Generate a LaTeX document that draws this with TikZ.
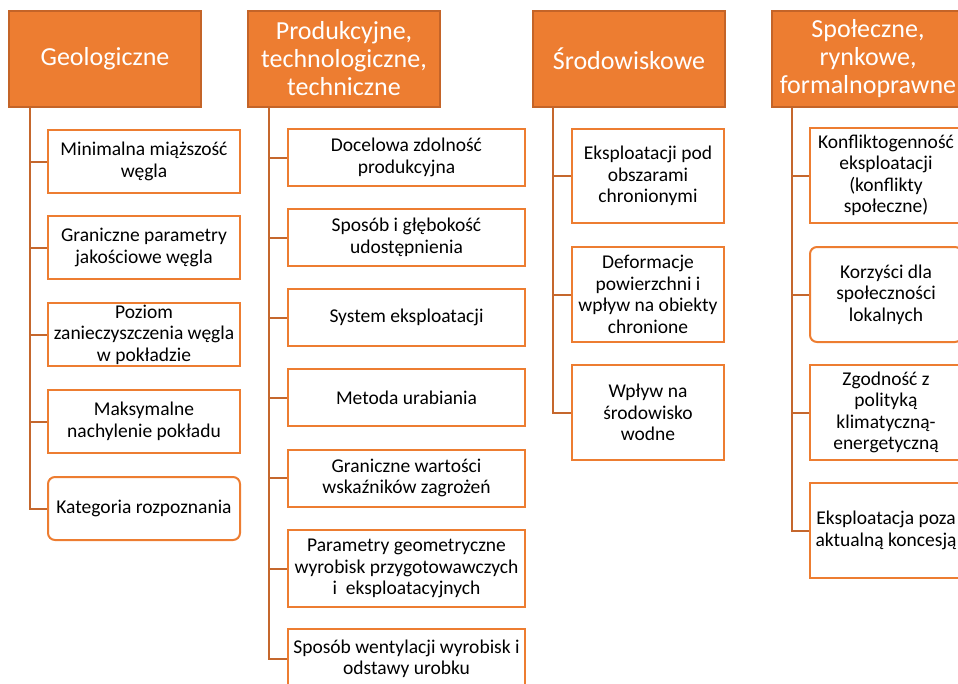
\documentclass[tikz,border=0pt]{standalone}
\usepackage{fontspec}
\setmainfont{Carlito}
\definecolor{hdfill}{RGB}{237,125,49}
\definecolor{hdline}{RGB}{196,100,40}
\definecolor{boxline}{RGB}{237,125,49}
\definecolor{connline}{RGB}{197,103,45}
\tikzset{
  hd/.style={draw=hdline, line width=1.5pt, fill=hdfill, text=white, align=center,
    inner sep=0pt, minimum width=192, minimum height=96,
    font=\fontsize{26}{28}\selectfont},
  ch/.style={draw=boxline, line width=2pt, fill=white, text=black, align=center,
    inner sep=0pt, font=\fontsize{19.5}{21.5}\selectfont},
  chr/.style={ch, rounded corners=7pt},
  conn/.style={draw=connline, line width=2pt},
}
\begin{document}
\begin{tikzpicture}[x=1pt, y=-1pt]
\useasboundingbox (0,0) rectangle (958,683);
% headers
\node[hd] (gh) at (105,59) {Geologiczne};
\node[hd] (ph) at (344,59) {Produkcyjne,\\technologiczne,\\techniczne};
\node[hd] (sh) at (629,59) {Środowiskowe};
\node[hd] (fh) at (868,59) {Społeczne,\\rynkowe,\\formalnoprawne};
% column 1
\node[ch, minimum width=192, minimum height=63] (g1) at (144,161.5) {Minimalna miąższość\\węgla};
\node[ch, minimum width=192, minimum height=63] (g2) at (144,247.5) {Graniczne parametry\\jakościowe węgla};
\node[ch, minimum width=192, minimum height=63] (g3) at (144,334.5) {Poziom\\zanieczyszczenia węgla\\w pokładzie};
\node[ch, minimum width=192, minimum height=63] (g4) at (144,421.5) {Maksymalne\\nachylenie pokładu};
\node[chr, minimum width=192, minimum height=63] (g5) at (144,508.5) {Kategoria rozpoznania};
% column 2
\node[ch, minimum width=237, minimum height=57] (p1) at (406.5,157.5) {Docelowa zdolność\\produkcyjna};
\node[ch, minimum width=237, minimum height=57] (p2) at (406.5,237.5) {Sposób i głębokość\\udostępnienia};
\node[ch, minimum width=237, minimum height=57] (p3) at (406.5,317.5) {System eksploatacji};
\node[ch, minimum width=237, minimum height=57] (p4) at (406.5,397.5) {Metoda urabiania};
\node[ch, minimum width=237, minimum height=57] (p5) at (406.5,478) {Graniczne wartości\\wskaźników zagrożeń};
\node[ch, minimum width=237, minimum height=77] (p6) at (406.5,568.5) {Parametry geometryczne\\wyrobisk przygotowawczych\\i~ eksploatacyjnych};
\node[ch, minimum width=237, minimum height=60] (p7) at (406.5,659) {Sposób wentylacji wyrobisk i\\odstawy urobku};
% column 3
\node[ch, minimum width=152, minimum height=94] (s1) at (648,176) {Eksploatacji pod\\obszarami\\chronionymi};
\node[ch, minimum width=152, minimum height=95] (s2) at (648,294.5) {Deformacje\\powierzchni i\\wpływ na obiekty\\chronione};
\node[ch, minimum width=152, minimum height=95] (s3) at (648,412.5) {Wpływ na\\środowisko\\wodne};
% column 4
\node[ch, minimum width=152, minimum height=95] (f1) at (886,175.5) {Konfliktogenność\\eksploatacji\\(konflikty\\społeczne)};
\node[chr, minimum width=152, minimum height=95] (f2) at (886,294.5) {Korzyści dla\\społeczności\\lokalnych};
\node[ch, minimum width=152, minimum height=95] (f3) at (886,412.5) {Zgodność z\\polityką\\klimatyczną-\\energetyczną};
\node[ch, minimum width=152, minimum height=95] (f4) at (886,530.5) {Eksploatacja poza\\aktualną koncesją};
% trunks
\coordinate (gt) at (30,0);
\coordinate (pt) at (269,0);
\coordinate (st) at (553,0);
\coordinate (ft) at (792,0);
\draw[conn] (gt |- gh.south) |- (g5.west);
\foreach \n in {g1,g2,g3,g4} \draw[conn] (gt |- \n.west) -- (\n.west);
\draw[conn] (pt |- ph.south) |- (p7.west);
\foreach \n in {p1,p2,p3,p4,p5,p6} \draw[conn] (pt |- \n.west) -- (\n.west);
\draw[conn] (st |- sh.south) |- (s3.west);
\foreach \n in {s1,s2} \draw[conn] (st |- \n.west) -- (\n.west);
\draw[conn] (ft |- fh.south) |- (f4.west);
\foreach \n in {f1,f2,f3} \draw[conn] (ft |- \n.west) -- (\n.west);
\end{tikzpicture}
\end{document}
